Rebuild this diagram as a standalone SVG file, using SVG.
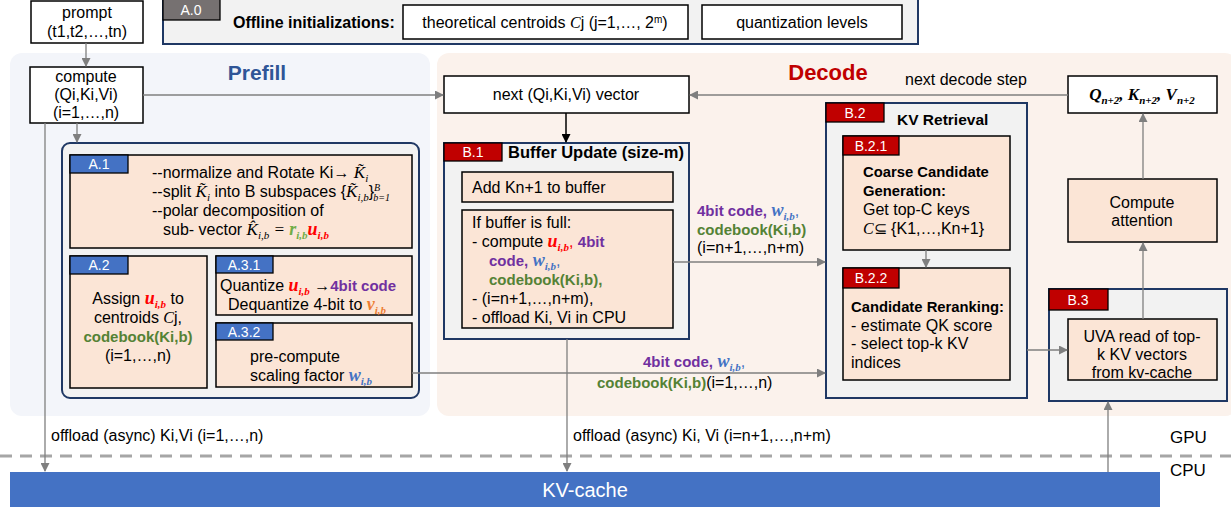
<svg xmlns="http://www.w3.org/2000/svg" width="1231" height="507" viewBox="0 0 1231 507">
<defs>
<marker id="ag" markerWidth="9" markerHeight="9" refX="8" refY="4.5" orient="auto" markerUnits="userSpaceOnUse"><path d="M0,0 L9,4.5 L0,9 z" fill="#7f7f7f"/></marker>
<marker id="ak" markerWidth="9" markerHeight="9" refX="8" refY="4.5" orient="auto" markerUnits="userSpaceOnUse"><path d="M0,0 L9,4.5 L0,9 z" fill="#000"/></marker>
<style>
.t{font-family:"Liberation Sans",Arial,sans-serif;font-size:16px;fill:#000}
.mid{text-anchor:middle}
.b{font-weight:bold;font-size:15.5px}
.m{font-family:"Liberation Serif","DejaVu Serif",serif;font-style:italic;font-weight:bold}
.mi{font-family:"Liberation Serif","DejaVu Serif",serif;font-style:italic}
.box{fill:#fbe5d6;stroke:#000;stroke-width:1.5}
.wbox{fill:#fff;stroke:#000;stroke-width:1.5}
.outer{fill:#f2f2f2;stroke:#1f3864;stroke-width:2}
.tabA{fill:#4472c4;stroke:#000;stroke-width:1.3}
.tabB{fill:#c00000;stroke:#000;stroke-width:1.3}
.tt{font-family:"Liberation Sans",Arial,sans-serif;font-size:14px;fill:#fff;text-anchor:middle}
.c{stroke:#7f7f7f;stroke-width:1.3;fill:none}
.red{fill:#ff0000}.grn{fill:#70ad47}.blu{fill:#4472c4}.org{fill:#ed7d31}
.cb{fill:#548235;font-weight:bold;font-size:15px}.pur{fill:#7030a0;font-weight:bold;font-size:15px}
.b2{font-weight:bold;font-size:14.8px}
</style>
</defs>
<rect width="1231" height="507" fill="#fff"/>
<g id="backgrounds">
<rect x="10" y="53" width="420" height="363" rx="12" fill="#f3f5fa"/>
<rect x="437" y="53" width="800" height="363" rx="12" fill="#fbf2ec"/>
<text x="257" y="80" class="t mid" style="font-size:21px;font-weight:bold;fill:#2f5597">Prefill</text>
<text x="828" y="80" class="t mid" style="font-size:22px;font-weight:bold;fill:#c00000">Decode</text>
<line x1="0" y1="456" x2="1231" y2="456" stroke="#a6a6a6" stroke-width="3" stroke-dasharray="12,8"/>
<text x="1170" y="443" class="t" style="font-size:17px">GPU</text>
<text x="1170" y="476" class="t" style="font-size:17px">CPU</text>
</g>
<g id="kv-cache">
<rect x="10" y="472" width="1150" height="35" fill="#4472c4"/>
<text x="585" y="497" class="t mid" style="font-size:20px;fill:#fff">KV-cache</text>
</g>
<g id="prompt">
<rect x="31" y="1" width="112" height="42" class="wbox"/>
<text x="87" y="18" class="t mid">prompt</text>
<text x="87" y="37" class="t mid">(t1,t2,…,tn)</text>
</g>
<g id="A0">
<rect x="163" y="-2" width="755" height="46" class="outer"/>
<rect x="163" y="-1" width="57" height="21" fill="#767171" stroke="#000" stroke-width="1.3"/>
<text x="191" y="15" class="tt">A.0</text>
<text x="233" y="28" class="t b" style="font-size:16px">Offline initializations:</text>
<rect x="403" y="5" width="285" height="34" class="wbox"/>
<text x="545" y="28" class="t mid">theoretical centroids <tspan class="mi">C</tspan>j (j=1,…, 2<tspan font-size="10" dy="-5">m</tspan><tspan dy="5">)</tspan></text>
<rect x="702" y="5" width="200" height="34" class="wbox"/>
<text x="802" y="28" class="t mid">quantization levels</text>
</g>
<g id="compute">
<rect x="30" y="67" width="113" height="56" class="wbox"/>
<text x="86" y="82" class="t mid">compute</text>
<text x="86" y="100" class="t mid">(Qi,Ki,Vi)</text>
<text x="86" y="118" class="t mid">(i=1,…,n)</text>
</g>
<g id="prefill-group">
<rect x="62" y="143" width="357" height="255" rx="8" class="outer"/>
</g>
<g id="A1">
<rect x="70" y="155" width="342" height="93" class="box"/>
<rect x="70" y="155" width="58" height="18" class="tabA"/>
<text x="99" y="169" class="tt">A.1</text>
<text x="152" y="178" class="t">--normalize and Rotate Ki→ <tspan class="mi" font-size="17">K̃</tspan><tspan class="mi" font-size="11" dy="4">i</tspan></text>
<text x="152" y="197" class="t">--split <tspan class="mi" font-size="17">K̃</tspan><tspan class="mi" font-size="11" dy="4">i</tspan><tspan dy="-4"> into B subspaces {</tspan><tspan class="mi" font-size="17">K̃</tspan><tspan class="mi" font-size="11" dy="4">i,b</tspan><tspan dy="-4">}</tspan><tspan class="mi" font-size="10" dy="-6">B</tspan><tspan class="mi" font-size="10" dx="-7" dy="10">b=1</tspan></text>
<text x="152" y="216" class="t">--polar decomposition of</text>
<text x="163" y="235" class="t">sub- vector <tspan class="mi" font-size="17">K̂</tspan><tspan class="mi" font-size="11" dy="4">i,b</tspan><tspan class="mi" font-size="17" dy="-4"> = </tspan><tspan class="m grn" font-size="18">r</tspan><tspan class="m grn" font-size="11" dy="4">i,b</tspan><tspan class="m red" font-size="18" dy="-4">u</tspan><tspan class="m red" font-size="11" dy="4">i,b</tspan></text>
</g>
<g id="A2">
<rect x="70" y="256" width="137" height="132" class="box"/>
<rect x="70" y="256" width="58" height="18" class="tabA"/>
<text x="99" y="270" class="tt">A.2</text>
<text x="138" y="304" class="t mid">Assign <tspan class="m red" font-size="18">u</tspan><tspan class="m red" font-size="11" dy="4">i,b</tspan><tspan dy="-4">  to</tspan></text>
<text x="138" y="323" class="t mid">centroids <tspan class="mi">C</tspan>j,</text>
<text x="138" y="342" class="t mid cb">codebook(Ki,b)</text>
<text x="138" y="361" class="t mid">(i=1,…,n)</text>
</g>
<g id="A31">
<rect x="216" y="256" width="196" height="59" class="box"/>
<rect x="216" y="256" width="57" height="17" class="tabA"/>
<text x="244" y="270" class="tt">A.3.1</text>
<text x="220" y="291" class="t">Quantize <tspan class="m red" font-size="18">u</tspan><tspan class="m red" font-size="11" dy="4">i,b</tspan><tspan dy="-4"> →</tspan><tspan class="pur">4bit code</tspan></text>
<text x="228" y="310" class="t">Dequantize 4-bit to <tspan class="m org" font-size="18">v</tspan><tspan class="m org" font-size="11" dy="4">i,b</tspan></text>
</g>
<g id="A32">
<rect x="216" y="323" width="196" height="64" class="box"/>
<rect x="216" y="323" width="57" height="17" class="tabA"/>
<text x="244" y="337" class="tt">A.3.2</text>
<text x="250" y="362" class="t">pre-compute</text>
<text x="250" y="381" class="t">scaling factor <tspan class="m blu" font-size="18">w</tspan><tspan class="m blu" font-size="11" dy="4">i,b</tspan></text>
</g>
<g id="next-vector">
<rect x="444" y="76" width="245" height="37" class="wbox"/>
<text x="566" y="100" class="t mid">next (Qi,Ki,Vi) vector</text>
</g>
<g id="B1">
<rect x="444" y="143" width="245" height="196" class="outer"/>
<rect x="444" y="143" width="58" height="18" class="tabB"/>
<text x="473" y="157" class="tt">B.1</text>
<text x="508" y="158" class="t b" style="font-size:16.5px">Buffer Update (size-m)</text>
<rect x="462" y="172" width="211" height="30" class="box"/>
<text x="472" y="193" class="t">Add Kn+1 to buffer</text>
<rect x="462" y="210" width="211" height="118" class="box"/>
<text x="472" y="228" class="t">If  buffer is full:</text>
<text x="472" y="247" class="t">-  compute <tspan class="m red" font-size="18">u</tspan><tspan class="m red" font-size="11" dy="4">i,b</tspan><tspan class="red" dy="-4">,</tspan> <tspan class="pur">4bit</tspan></text>
<text x="489" y="266" class="t"><tspan class="pur">code,</tspan> <tspan class="m blu" font-size="18">w</tspan><tspan class="m blu" font-size="11" dy="4">i,b</tspan><tspan class="blu" dy="-4">,</tspan></text>
<text x="489" y="285" class="t cb">codebook(Ki,b),</text>
<text x="472" y="304" class="t">-  (i=n+1,…,n+m),</text>
<text x="472" y="323" class="t">-  offload Ki, Vi in CPU</text>
</g>
<g id="B2">
<rect x="826" y="103" width="201" height="295" class="outer"/>
<rect x="826" y="103" width="58" height="19" class="tabB"/>
<text x="855" y="118" class="tt">B.2</text>
<text x="897" y="125" class="t b">KV Retrieval</text>
</g>
<g id="B21">
<rect x="843" y="136" width="167" height="114" class="box"/>
<rect x="843" y="136" width="56" height="19" class="tabB"/>
<text x="871" y="151" class="tt">B.2.1</text>
<text x="863" y="177" class="t b2">Coarse Candidate</text>
<text x="863" y="196" class="t b2">Generation:</text>
<text x="863" y="215" class="t">Get top-C keys</text>
<text x="863" y="234" class="t"><tspan class="mi">C</tspan>⊆ {K1,…,Kn+1}</text>
</g>
<g id="B22">
<rect x="843" y="268" width="167" height="112" class="box"/>
<rect x="843" y="268" width="56" height="20" class="tabB"/>
<text x="871" y="283" class="tt">B.2.2</text>
<text x="851" y="312" class="t b2">Candidate Reranking:</text>
<text x="851" y="331" class="t">- estimate QK score</text>
<text x="851" y="349" class="t">- select top-k KV</text>
<text x="851" y="368" class="t">indices</text>
</g>
<g id="B3">
<rect x="1049" y="289" width="178" height="112" class="outer"/>
<rect x="1049" y="289" width="59" height="21" class="tabB"/>
<text x="1078" y="305" class="tt">B.3</text>
<rect x="1068" y="319" width="149" height="61" class="box"/>
<text x="1142" y="342" class="t mid">UVA read of top-</text>
<text x="1142" y="360" class="t mid">k KV vectors</text>
<text x="1142" y="378" class="t mid">from kv-cache</text>
</g>
<g id="compute-attention">
<rect x="1068" y="179" width="149" height="63" class="box"/>
<text x="1142" y="208" class="t mid">Compute</text>
<text x="1142" y="226" class="t mid">attention</text>
</g>
<g id="qkv-next">
<rect x="1068" y="76" width="149" height="37" class="wbox"/>
<text x="1142" y="100" class="t mid"><tspan class="m" font-size="17">Q</tspan><tspan class="m" font-size="11" dy="4">n+2</tspan><tspan class="m" font-size="17" dy="-4">, K</tspan><tspan class="m" font-size="11" dy="4">n+2</tspan><tspan class="m" font-size="17" dy="-4">, V</tspan><tspan class="m" font-size="11" dy="4">n+2</tspan></text>
</g>
<g id="connectors">
<line x1="86" y1="43" x2="86" y2="66" class="c" marker-end="url(#ag)"/>
<line x1="143" y1="95" x2="443" y2="95" class="c" marker-end="url(#ag)"/>
<line x1="77" y1="123" x2="77" y2="142" class="c" marker-end="url(#ag)"/>
<line x1="45" y1="123" x2="45" y2="471" class="c" marker-end="url(#ag)"/>
<line x1="566" y1="113" x2="566" y2="142" stroke="#000" stroke-width="1.5" marker-end="url(#ak)"/>
<line x1="1068" y1="95" x2="690" y2="95" class="c" marker-end="url(#ag)"/>
<text x="905" y="85" class="t">next decode step</text>
<line x1="673" y1="262" x2="825" y2="262" class="c" marker-end="url(#ag)"/>
<text x="697" y="216" class="t"><tspan class="pur">4bit code,</tspan> <tspan class="m blu" font-size="18">w</tspan><tspan class="m blu" font-size="11" dy="4">i,b</tspan><tspan class="blu" dy="-4">,</tspan></text>
<text x="697" y="235" class="t cb">codebook(Ki,b)</text>
<text x="697" y="253" class="t">(i=n+1,…,n+m)</text>
<line x1="412" y1="373" x2="825" y2="373" class="c" marker-end="url(#ag)"/>
<text x="643" y="367" class="t"><tspan class="pur">4bit code,</tspan> <tspan class="m blu" font-size="18">w</tspan><tspan class="m blu" font-size="11" dy="4">i,b</tspan><tspan class="blu" dy="-4">,</tspan></text>
<text x="597" y="388" class="t"><tspan class="cb">codebook(Ki,b)</tspan>(i=1,…,n)</text>
<line x1="926" y1="250" x2="926" y2="267" class="c" marker-end="url(#ag)"/>
<line x1="1027" y1="350" x2="1067" y2="350" class="c" marker-end="url(#ag)"/>
<line x1="1143" y1="319" x2="1143" y2="243" class="c" marker-end="url(#ag)"/>
<line x1="1143" y1="179" x2="1143" y2="114" class="c" marker-end="url(#ag)"/>
<line x1="567" y1="339" x2="567" y2="471" class="c" marker-end="url(#ag)"/>
<text x="51" y="441" class="t">offload (async) Ki,Vi (i=1,…,n)</text>
<text x="573" y="441" class="t">offload (async) Ki, Vi (i=n+1,…,n+m)</text>
<line x1="1108" y1="472" x2="1108" y2="402" class="c" marker-end="url(#ag)"/>
</g>
</svg>
